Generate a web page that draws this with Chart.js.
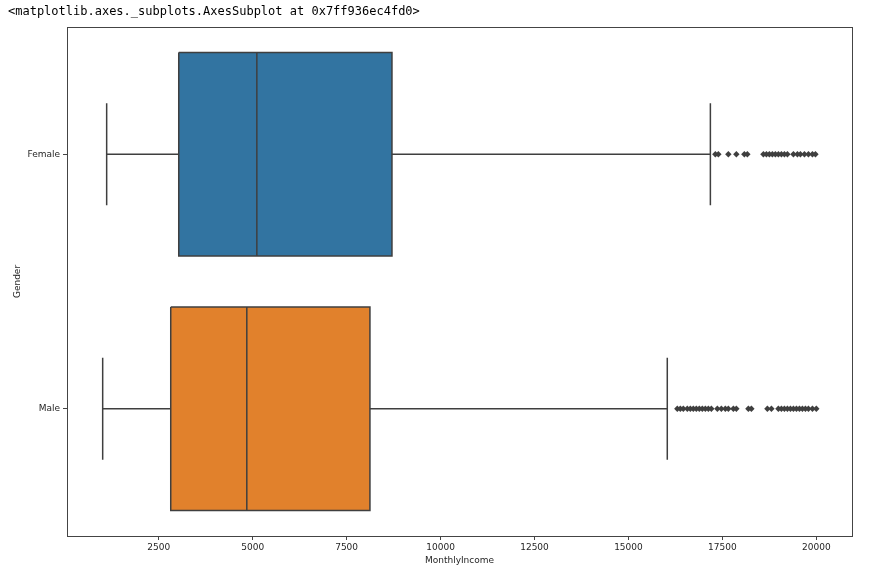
<!DOCTYPE html>
<html>
<head>
<meta charset="utf-8">
<script src="https://cdn.jsdelivr.net/npm/chart.js@4/dist/chart.umd.min.js"></script>
<style>
  html, body { margin: 0; padding: 0; background: #fff; }
  #wrap { position: relative; width: 877px; height: 573px; }
  #repr { position: absolute; left: 8px; top: 4px; font: 12px "DejaVu Sans Mono", monospace; color: #000; white-space: pre; }
  canvas { position: absolute; left: 0; top: 0; }
</style>
</head>
<body>
<div id="wrap">
  <canvas id="c" width="877" height="573"></canvas>
  <div id="repr">&lt;matplotlib.axes._subplots.AxesSubplot at 0x7ff936ec4fd0&gt;</div>
</div>
<script>
const categories = ['Female', 'Male'];
const whiskerLow  = [1115, 1009];
const q1          = [3033, 2820];
const medians     = [5111, 4844];
const q3          = [8707, 8121];
const whiskerHigh = [17180, 16033];
const outliersFemale = [17312, 17392, 17658, 17871, 18084, 18164, 18591, 18671, 18750, 18830, 18910, 18990, 19070, 19150, 19230, 19390, 19496, 19576, 19683, 19789, 19896, 19976];
const outliersMale = [16300, 16380, 16460, 16566, 16646, 16726, 16806, 16886, 16966, 17046, 17126, 17206, 17366, 17472, 17578, 17658, 17792, 17871, 18191, 18271, 18697, 18804, 18990, 19070, 19150, 19230, 19310, 19390, 19470, 19550, 19629, 19709, 19789, 19896, 19999];
const outliers = [outliersFemale, outliersMale];
const xTicks = [2500, 5000, 7500, 10000, 12500, 15000, 17500, 20000];
const boxColors = ['#3274a1', '#e1812c'];

const LINE = '#3f3f3f';
const LW = 1.5;
const HALF = 0.4;   // half box height (category units)
const CAP = 0.2;    // half whisker cap height

function seg(points) {
  return { type: 'line', data: points, borderColor: LINE, borderWidth: LW, pointRadius: 0, fill: false, showLine: true, order: 1 };
}

const datasets = [];
categories.forEach((cat, i) => {
  // box
  datasets.push({
    type: 'line',
    data: [
      {x: q1[i], y: i - HALF}, {x: q3[i], y: i - HALF},
      {x: q3[i], y: i + HALF}, {x: q1[i], y: i + HALF},
      {x: q1[i], y: i - HALF}
    ],
    borderColor: LINE, borderWidth: LW, backgroundColor: boxColors[i],
    pointRadius: 0, fill: 'shape', showLine: true, tension: 0, order: 5
  });
  // median
  datasets.push(seg([{x: medians[i], y: i - HALF}, {x: medians[i], y: i + HALF}]));
  // whiskers
  datasets.push(seg([{x: whiskerLow[i], y: i}, {x: q1[i], y: i}]));
  datasets.push(seg([{x: q3[i], y: i}, {x: whiskerHigh[i], y: i}]));
  // caps
  datasets.push(seg([{x: whiskerLow[i], y: i - CAP}, {x: whiskerLow[i], y: i + CAP}]));
  datasets.push(seg([{x: whiskerHigh[i], y: i - CAP}, {x: whiskerHigh[i], y: i + CAP}]));
  // outliers
  datasets.push({
    type: 'scatter',
    data: outliers[i].map(v => ({x: v, y: i})),
    pointStyle: 'rectRot', pointRadius: 3.2,
    backgroundColor: LINE, borderColor: LINE, borderWidth: 0, showLine: false, order: 0
  });
});

const allVals = [].concat(whiskerLow, whiskerHigh, outliersFemale, outliersMale);
const dMin = Math.min(...allVals), dMax = Math.max(...allVals);
const margin = (dMax - dMin) * 0.05;

const frame = {
  id: 'frame',
  afterDatasetsDraw(chart) {
    const a = chart.chartArea, ctx = chart.ctx;
    ctx.save();
    ctx.strokeStyle = '#444';
    ctx.lineWidth = 1;
    ctx.strokeRect(Math.round(a.left) + 0.5, Math.round(a.top) + 0.5, Math.round(a.right - a.left), Math.round(a.bottom - a.top));
    ctx.restore();
  }
};

const tickFont = { family: 'DejaVu Sans', size: 9 };
new Chart(document.getElementById('c'), {
  type: 'scatter',
  data: { datasets },
  plugins: [frame],
  options: {
    responsive: false,
    animation: false,
    devicePixelRatio: 1,
    layout: { padding: { top: 27, right: 25, left: 0, bottom: 0 } },
    plugins: { legend: { display: false }, tooltip: { enabled: false } },
    scales: {
      x: {
        type: 'linear',
        min: dMin - margin, max: dMax + margin,
        afterBuildTicks: s => { s.ticks = xTicks.map(v => ({ value: v })); },
        afterFit: s => { s.height = 37; },
        ticks: { font: tickFont, color: '#262626', padding: 2, maxRotation: 0, autoSkip: false, callback: v => String(v) },
        grid: { display: true, drawOnChartArea: false, tickLength: 4, color: '#444' },
        border: { display: true, color: '#444' },
        title: { display: true, text: 'MonthlyIncome', font: tickFont, color: '#262626', padding: { top: 0, bottom: 7 } }
      },
      y: {
        type: 'linear',
        reverse: true,
        min: -0.5, max: 1.5,
        afterBuildTicks: s => { s.ticks = categories.map((c, i) => ({ value: i })); },
        afterFit: s => { s.width = 67; },
        ticks: { font: tickFont, color: '#262626', padding: 3, autoSkip: false, callback: v => categories[v] },
        grid: { display: true, drawOnChartArea: false, tickLength: 4, color: '#444' },
        border: { display: true, color: '#444' },
        title: { display: true, text: 'Gender', font: tickFont, color: '#262626', padding: { top: 12, bottom: 0 } }
      }
    }
  }
});
</script>
</body>
</html>
